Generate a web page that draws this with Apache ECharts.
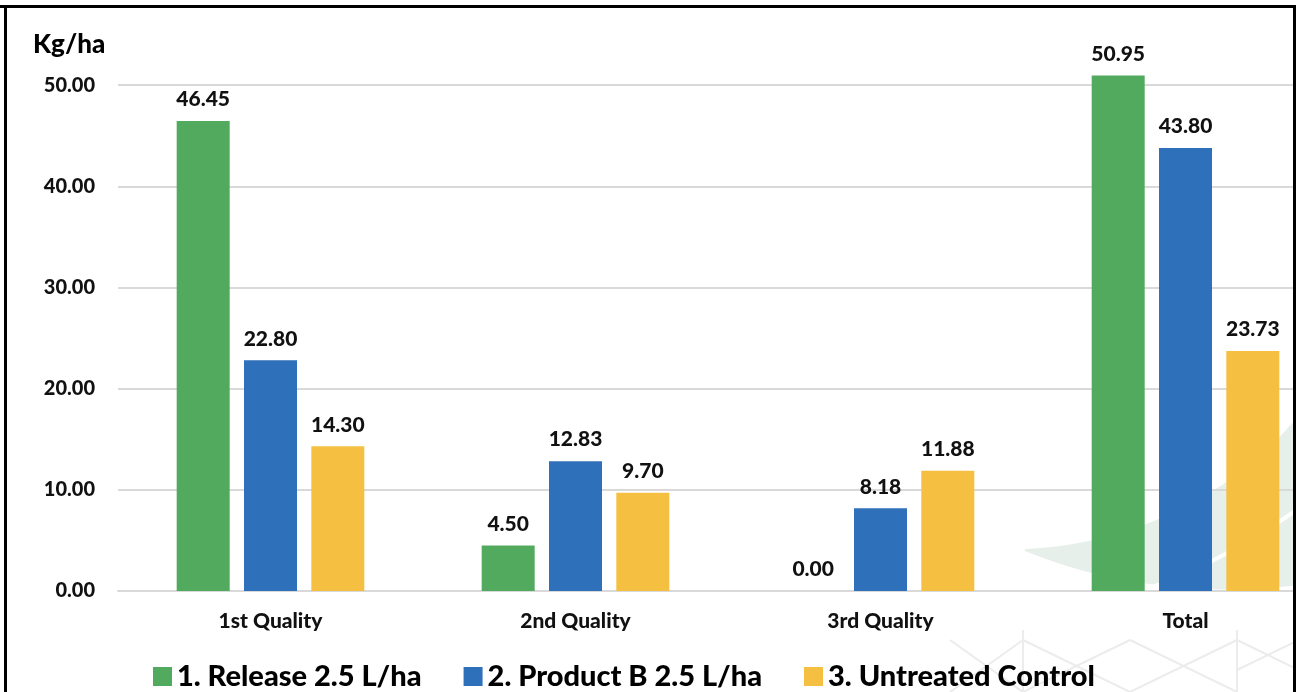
<!DOCTYPE html>
<html>
<head>
<meta charset="utf-8">
<script src="https://cdn.jsdelivr.net/npm/echarts@6/dist/echarts.min.js"></script>
<style>
  html, body { margin: 0; padding: 0; background: #ffffff; }
  #chart { width: 1299px; height: 692px; }
</style>
</head>
<body>
<div id="chart"></div>
<script>
// Yield by quality grade (kg/ha) for each treatment
const categories = ['1st Quality', '2nd Quality', '3rd Quality', 'Total'];
const seriesNames = ['1. Release 2.5 L/ha', '2. Product B 2.5 L/ha', '3. Untreated Control'];
const releaseValues = [46.45, 4.50, 0.00, 50.95];
const productBValues = [22.80, 12.83, 8.18, 43.80];
const controlValues = [14.30, 9.70, 11.88, 23.73];
const seriesColors = ['#52AA5E', '#2E70BA', '#F5C042'];
const unitLabel = 'Kg/ha';

const FONT = 'Lato, "Open Sans", sans-serif';
const WEIGHT = 900;

const chart = echarts.init(document.getElementById('chart'), null, { renderer: 'canvas' });

function barSeries(name, data, color) {
  return {
    name: name,
    type: 'bar',
    data: data,
    barWidth: 53,
    barGap: '27%',
    clip: false,
    itemStyle: { color: color },
    label: {
      show: true,
      position: 'top',
      distance: 11,
      formatter: p => p.value.toFixed(2),
      fontFamily: FONT,
      fontWeight: WEIGHT,
      fontSize: 21,
      color: '#111111'
    }
  };
}

// cubic bezier sampler for the decorative leaf outline
function bezier(p0, p1, p2, p3, n) {
  const pts = [];
  for (let i = 0; i <= n; i++) {
    const t = i / n, u = 1 - t;
    pts.push([
      u * u * u * p0[0] + 3 * u * u * t * p1[0] + 3 * u * t * t * p2[0] + t * t * t * p3[0],
      u * u * u * p0[1] + 3 * u * u * t * p1[1] + 3 * u * t * t * p2[1] + t * t * t * p3[1]
    ]);
  }
  return pts;
}

// faint leaf watermark in the lower right corner
const leafOutline = []
  .concat(bezier([1025, 549], [1130, 545], [1235, 495], [1299, 415], 30))
  .concat(bezier([1299, 585], [1220, 595], [1120, 590], [1025, 551], 30));
const leafVein = bezier([1150, 588], [1200, 570], [1255, 540], [1299, 508], 20);

// faint lattice of crossing strokes behind the legend
const latticeLines = [
  [[950, 640], [1023, 692]], [[1023, 640], [950, 692]],
  [[1023, 630], [1023, 692]],
  [[1023, 640], [1130, 692]], [[1130, 640], [1023, 692]],
  [[1130, 640], [1237, 692]], [[1237, 640], [1130, 692]],
  [[1237, 630], [1237, 692]],
  [[1237, 640], [1299, 670]], [[1299, 640], [1237, 670]]
];

const graphics = [
  { type: 'polygon', z: -10, silent: true, shape: { points: leafOutline }, style: { fill: '#e6efe9' } },
  { type: 'polyline', z: -9, silent: true, shape: { points: leafVein }, style: { stroke: '#ffffff', lineWidth: 4, fill: null } }
].concat(latticeLines.map(pts => ({
  type: 'polyline', z: -10, silent: true,
  shape: { points: pts },
  style: { stroke: '#ececec', lineWidth: 2, fill: null }
}))).concat([
  // frame
  { type: 'rect', z: 100, silent: true, shape: { x: 0, y: 5, width: 1299, height: 3 }, style: { fill: '#000' } },
  { type: 'rect', z: 100, silent: true, shape: { x: 4, y: 5, width: 3, height: 687 }, style: { fill: '#000' } },
  { type: 'rect', z: 100, silent: true, shape: { x: 1293, y: 5, width: 3, height: 687 }, style: { fill: '#000' } },
  { type: 'rect', z: 100, silent: true, shape: { x: 1296, y: 0, width: 3, height: 692 }, style: { fill: '#fff' } }
]);

chart.setOption({
  backgroundColor: '#ffffff',
  animation: false,
  title: {
    text: unitLabel,
    left: 28,
    top: 27,
    textStyle: { fontFamily: FONT, fontWeight: WEIGHT, fontSize: 26, color: '#000' }
  },
  legend: {
    left: 148,
    top: 657,
    itemWidth: 19,
    itemHeight: 19,
    itemGap: 42,
    icon: 'rect',
    textStyle: { fontFamily: FONT, fontWeight: WEIGHT, fontSize: 29, color: '#000' },
    data: seriesNames
  },
  grid: { left: 118, top: -16, width: 1220, height: 607, containLabel: false, outerBoundsMode: 'none' },
  xAxis: {
    type: 'category',
    data: categories,
    axisLine: { show: true, lineStyle: { color: '#d9d9d9', width: 2 } },
    axisTick: { show: false },
    axisLabel: {
      margin: 20,
      fontFamily: FONT, fontWeight: WEIGHT, fontSize: 21, color: '#111'
    }
  },
  yAxis: {
    type: 'value',
    min: 0,
    max: 60,
    interval: 10,
    axisLine: { show: false },
    axisTick: { show: false },
    splitLine: { lineStyle: { color: '#d9d9d9', width: 2 } },
    axisLabel: {
      margin: 23,
      formatter: v => v.toFixed(2),
      fontFamily: FONT, fontWeight: WEIGHT, fontSize: 20, color: '#111'
    }
  },
  graphic: graphics,
  series: [
    barSeries(seriesNames[0], releaseValues, seriesColors[0]),
    barSeries(seriesNames[1], productBValues, seriesColors[1]),
    barSeries(seriesNames[2], controlValues, seriesColors[2])
  ]
});
</script>
</body>
</html>
